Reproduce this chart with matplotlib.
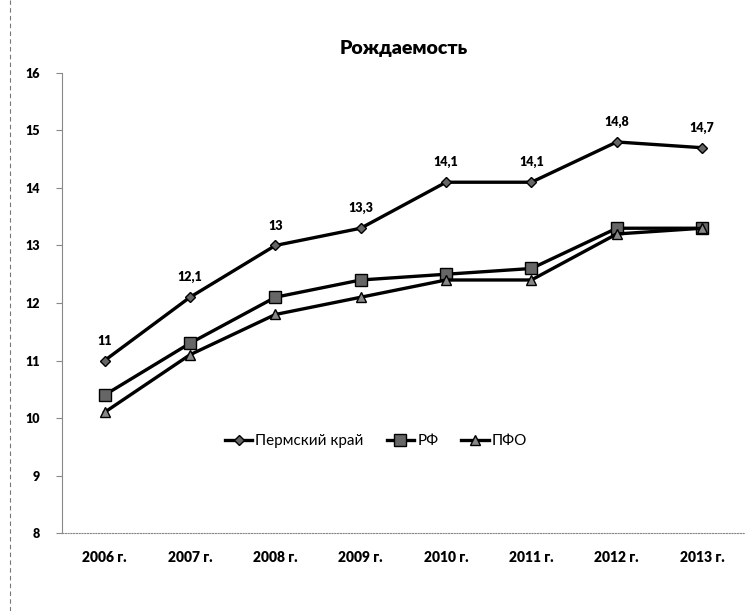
import numpy as np
import matplotlib.pyplot as plt
from matplotlib.lines import Line2D

years = ['2006 г.', '2007 г.', '2008 г.', '2009 г.', '2010 г.', '2011 г.', '2012 г.', '2013 г.']
perm = [11, 12.1, 13, 13.3, 14.1, 14.1, 14.8, 14.7]
rf = [10.4, 11.3, 12.1, 12.4, 12.5, 12.6, 13.3, 13.3]
pfo = [10.1, 11.1, 11.8, 12.1, 12.4, 12.4, 13.2, 13.3]

plt.rcParams['font.family'] = ['Lato', 'DejaVu Sans']

def main():
    fig = plt.figure(figsize=(7.52, 6.11), dpi=100)
    ax = fig.add_axes([0.0824, 0.1276, 0.908, 0.753])
    x = np.arange(len(years))

    ax.plot(x, perm, color='black', lw=2.4, marker='D', ms=5,
            mfc='#666666', mec='black', label='Пермский край')
    ax.plot(x, rf, color='black', lw=2.4, marker='s', ms=8,
            mfc='#666666', mec='black', label='РФ')
    ax.plot(x, pfo, color='black', lw=2.4, marker='^', ms=7,
            mfc='#888888', mec='black', label='ПФО')

    # подписи значений
    for xi, v in zip(x, perm):
        ax.annotate(f'{v:g}'.replace('.', ','), (xi, v), xytext=(0, 10),
                    textcoords='offset points', ha='center', va='bottom',
                    fontsize=9, fontweight='heavy')

    ax.set_xlim(-0.5, len(years) - 0.5)
    ax.set_ylim(8, 16)
    ax.set_yticks(range(8, 17))
    ax.set_xticks(x)
    ax.set_xticklabels(years, fontweight='heavy', fontsize=10)
    for lab in ax.get_yticklabels():
        lab.set_fontweight('heavy')
        lab.set_fontsize(9)
    ax.tick_params(axis='x', length=0, pad=13)
    ax.tick_params(axis='y', length=4, color='#888888', pad=12)

    ax.spines['top'].set_visible(False)
    ax.spines['right'].set_visible(False)
    ax.spines['left'].set_color('#888888')
    ax.spines['bottom'].set_color('#888888')
    ax.spines['bottom'].set_linestyle((0, (1, 1.5)))

    ax.set_title('Рождаемость', fontsize=14, fontweight='heavy', pad=14)
    ax.legend(loc='center', bbox_to_anchor=(0.46, 0.2), ncol=3, frameon=False,
              fontsize=11, handlelength=1.8, handletextpad=0.2, columnspacing=1.5)

    # рамка области диаграммы слева
    fig.add_artist(Line2D([0.013, 0.013], [0.0, 1.0], transform=fig.transFigure,
                          color='#777777', lw=0.8, ls=(0, (4, 3))))

    fig.savefig('out.png', dpi=100)

if __name__ == "__main__":
    main()
